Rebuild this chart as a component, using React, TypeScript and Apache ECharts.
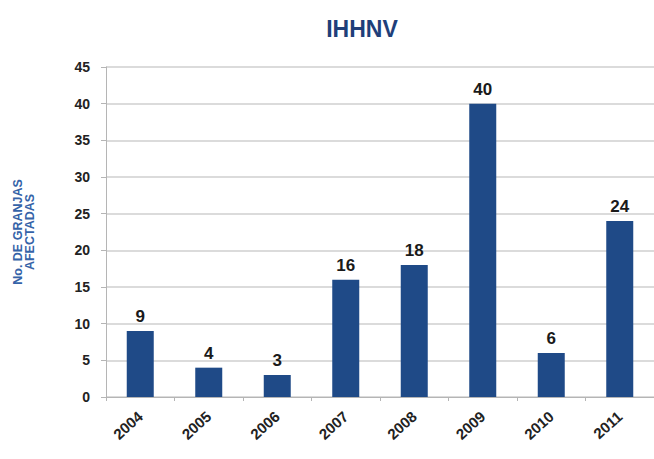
import React, { useEffect, useRef } from "react";
import * as echarts from "echarts";

const categories = ["2004", "2005", "2006", "2007", "2008", "2009", "2010", "2011"];
const values = [9, 4, 3, 16, 18, 40, 6, 24];
const yTicks = { min: 0, max: 45, interval: 5 };
const titleText = "IHHNV";
const yAxisName = "No. DE GRANJAS\nAFECTADAS";

export default function App() {
  const ref = useRef<HTMLDivElement>(null);
  useEffect(() => {
    document.body.style.margin = "0";
    const chart = echarts.init(ref.current!, undefined, { renderer: "svg" });
    chart.setOption({
      animation: false,
      backgroundColor: "#ffffff",
      title: {
        text: titleText,
        left: 357,
        textAlign: "center",
        top: 12,
        textStyle: {
          fontFamily: "Liberation Sans, Arial, sans-serif",
          fontWeight: "bold",
          fontSize: 23,
          color: "#1F3F7A",
        },
      },
      grid: { left: 106, right: 0, top: 67, bottom: 62 },
      xAxis: {
        type: "category",
        data: categories,
        boundaryGap: true,
        axisLine: { show: true, lineStyle: { color: "#b5b5b5", width: 1 } },
        axisTick: { show: true, alignWithLabel: false, length: 4, lineStyle: { color: "#b5b5b5" } },
        axisLabel: {
          rotate: 42,
          margin: 17,
          fontFamily: "Liberation Sans, Arial, sans-serif",
          fontWeight: "bold",
          fontSize: 15,
          color: "#222222",
        },
      },
      yAxis: {
        type: "value",
        min: yTicks.min,
        max: yTicks.max,
        interval: yTicks.interval,
        name: yAxisName,
        nameLocation: "middle",
        nameRotate: 90,
        nameGap: 70,
        nameTextStyle: {
          fontFamily: "Liberation Sans, Arial, sans-serif",
          fontWeight: "bold",
          fontSize: 12.5,
          lineHeight: 12,
          color: "#3563A8",
          align: "center",
        },
        axisLine: { show: true, lineStyle: { color: "#b5b5b5", width: 1 } },
        axisTick: { show: true, length: 5, inside: false, lineStyle: { color: "#b5b5b5" } },
        splitLine: { show: true, lineStyle: { color: "#cfcfcf", width: 1.5 } },
        axisLabel: {
          margin: 16,
          fontFamily: "Liberation Sans, Arial, sans-serif",
          fontWeight: "bold",
          fontSize: 14,
          color: "#222222",
        },
      },
      series: [
        {
          type: "bar",
          data: values,
          barWidth: 27,
          itemStyle: { color: "#1F4A87" },
          label: {
            show: true,
            position: "top",
            distance: 6,
            fontFamily: "Liberation Sans, Arial, sans-serif",
            fontWeight: "bold",
            fontSize: 17,
            color: "#1a1a1a",
          },
        },
      ],
    });
    return () => chart.dispose();
  }, []);
  return <div ref={ref} style={{ width: 654, height: 459 }} />;
}
